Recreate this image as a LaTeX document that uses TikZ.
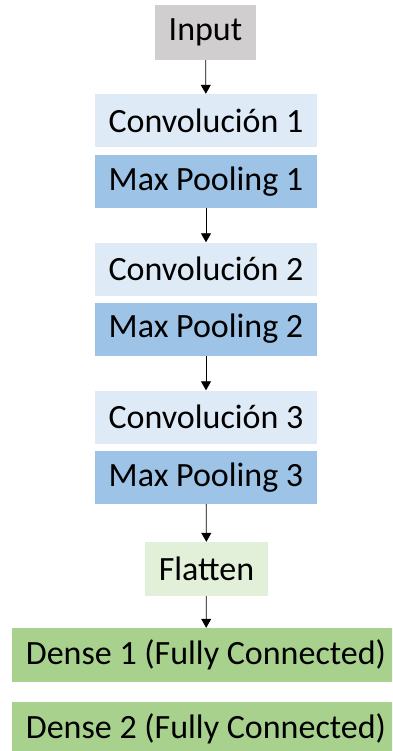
\documentclass[tikz,border=0pt]{standalone}
\usepackage{fontspec}
\setmainfont{Carlito}
\usetikzlibrary{arrows.meta}

\definecolor{gris}{HTML}{D0CECE}
\definecolor{convcol}{HTML}{DEEBF7}
\definecolor{poolcol}{HTML}{9DC3E6}
\definecolor{flatcol}{HTML}{E2F0D9}
\definecolor{densecol}{HTML}{A9D18E}

\tikzset{
  capa/.style={inner sep=0pt, minimum height=53pt, font=\fontsize{34}{40}\selectfont},
  conv/.style={capa, fill=convcol, minimum width=222pt},
  pool/.style={capa, fill=poolcol, minimum width=222pt},
  flecha/.style={-{Triangle[length=9pt,width=10pt]}, line width=0.8pt}
}

\begin{document}
\begin{tikzpicture}[x=1pt,y=-1pt]
\clip (0,0) rectangle (392,751);
\fill[white] (0,0) rectangle (392,751);
\node[capa, fill=gris, minimum width=101pt, minimum height=55pt] (input) at (205.5,32.5) {Input};
\node[conv] (c1) at (206,120.5) {Convolución 1};
\node[pool] (p1) at (206,181.5) {Max Pooling 1};
\node[conv] (c2) at (206,269) {Convolución 2};
\node[pool] (p2) at (206,329) {Max Pooling 2};
\node[conv] (c3) at (206,417) {Convolución 3};
\node[pool] (p3) at (206,477.5) {Max Pooling 3};
\node[capa, fill=flatcol, minimum width=123pt, minimum height=54pt] (flat) at (206.5,569) {Flatten};
\node[capa, fill=densecol, minimum width=388pt, minimum height=54pt] (d1) at (206,655) {Dense 1 (Fully Connected)};
\node[capa, fill=densecol, minimum width=388pt, minimum height=54pt] (d2) at (206,729) {Dense 2 (Fully Connected)}; % coupée en bas
\draw[flecha] (input) -- (c1);
\draw[flecha] (p1) -- (c2);
\draw[flecha] (p2) -- (c3);
\draw[flecha] (p3) -- (flat);
\draw[flecha] (flat) -- (d1);
\end{tikzpicture}
\end{document}
